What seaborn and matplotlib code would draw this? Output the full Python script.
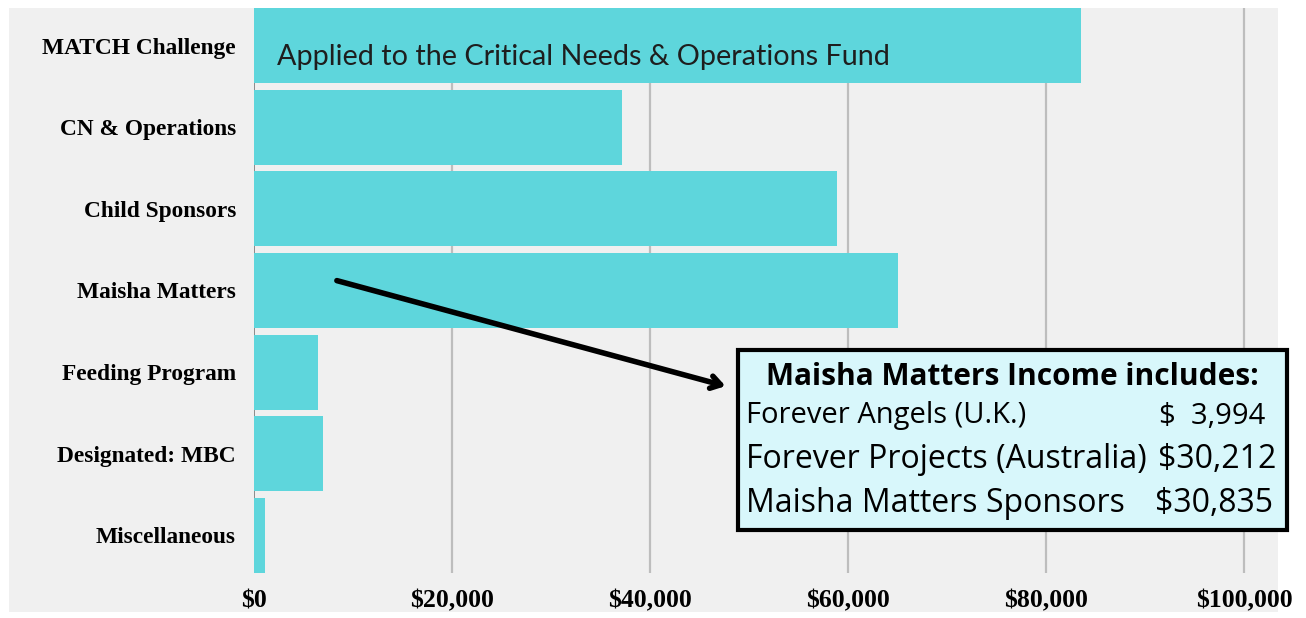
import matplotlib
matplotlib.use("Agg")
import matplotlib.pyplot as plt
import matplotlib.patches as mpatches
import pandas as pd
import seaborn as sns

# data
categories = ["MATCH Challenge", "CN & Operations", "Child Sponsors", "Maisha Matters",
              "Feeding Program", "Designated: MBC", "Miscellaneous"]
income = [83500, 37200, 58900, 65041, 6450, 6950, 1100]
tick_values = [0, 20000, 40000, 60000, 80000, 100000]
tick_labels = ["$0", "$20,000", "$40,000", "$60,000", "$80,000", "$100,000"]

box_title = "Maisha Matters Income includes:"
box_items = ["Forever Angels (U.K.)", "Forever Projects (Australia)", "Maisha Matters Sponsors"]
box_amounts = ["$  3,994", "$30,212", "$30,835"]

W, H = 1306, 618
BG = "#f0f0f0"
BAR = "#5ed6dc"


def fx(px):
    return px / W


def fy(py):
    return 1 - py / H


df = pd.DataFrame({"category": categories, "income": income})

sns.set_style("white")
plt.rcParams["text.color"] = "black"
fig = plt.figure(figsize=(W / 100, H / 100), dpi=100, facecolor="white")

# grey panel behind everything
fig.patches.append(mpatches.Rectangle((fx(9), fy(612)), fx(1278) - fx(9), fy(8) - fy(612),
                                      transform=fig.transFigure, facecolor=BG,
                                      edgecolor="none", zorder=-5))

ax = fig.add_axes([fx(254), fy(573), fx(1278) - fx(254), fy(8) - fy(573)])
ax.set_facecolor(BG)
sns.barplot(data=df, x="income", y="category", orient="h", color=BAR,
            width=0.917, saturation=1, linewidth=0, edgecolor="none", ax=ax, zorder=3)

ax.set_xlim(0, 103430)
ax.set_ylim(len(categories) - 0.54, -0.46)
ax.set_xticks(tick_values)
ax.set_xticklabels(tick_labels)
ax.set_xlabel("")
ax.set_ylabel("")
for x in tick_values[1:]:
    ax.axvline(x, color="#bdbdbd", lw=1.6, zorder=1)
ax.axvline(0, color="#7a7a7a", lw=1.2, zorder=2)
for s in ax.spines.values():
    s.set_visible(False)
ax.tick_params(axis="both", length=0, labelcolor="black")
ax.tick_params(axis="x", pad=12)
ax.tick_params(axis="y", pad=13)
for lab in ax.get_xticklabels():
    lab.set_fontfamily("Liberation Serif")
    lab.set_fontweight("bold")
    lab.set_fontsize(18.5)
for lab in ax.get_yticklabels():
    lab.set_fontfamily("Liberation Serif")
    lab.set_fontweight("bold")
    lab.set_fontsize(16.8)

ax.text(2300, 0.14, "Applied to the Critical Needs & Operations Fund", fontfamily="Lato",
        fontsize=20.7, color="#1e1e1e", va="center", ha="left", zorder=4)

# arrow from Maisha Matters bar to the info box
ax.annotate("", xy=(47900, 4.18), xytext=(8100, 2.87),
            arrowprops=dict(arrowstyle="->,head_length=0.7,head_width=0.45",
                            color="black", lw=4), zorder=5)

# info box
fig.patches.append(mpatches.Rectangle((fx(738), fy(530)), fx(1287) - fx(738), fy(350) - fy(530),
                                      transform=fig.transFigure, facecolor="#d8f7fb",
                                      edgecolor="black", lw=3, zorder=6))
fig.text(fx(1012), fy(377), box_title, fontfamily="Open Sans", fontweight="bold",
         fontsize=21.5, ha="center", va="center", zorder=7)
rows_y = [416, 459, 503]
item_sizes = [21, 23, 23]
amount_right = [1265, 1276, 1273]
for name, amt, y, fs, xr in zip(box_items, box_amounts, rows_y, item_sizes, amount_right):
    fig.text(fx(746), fy(y), name, fontfamily="Open Sans", fontsize=fs,
             ha="left", va="center", zorder=7)
    fig.text(fx(xr), fy(y), amt, fontfamily="Open Sans", fontsize=fs,
             ha="right", va="center", zorder=7)

fig.savefig("out.png", dpi=100, facecolor="white")
